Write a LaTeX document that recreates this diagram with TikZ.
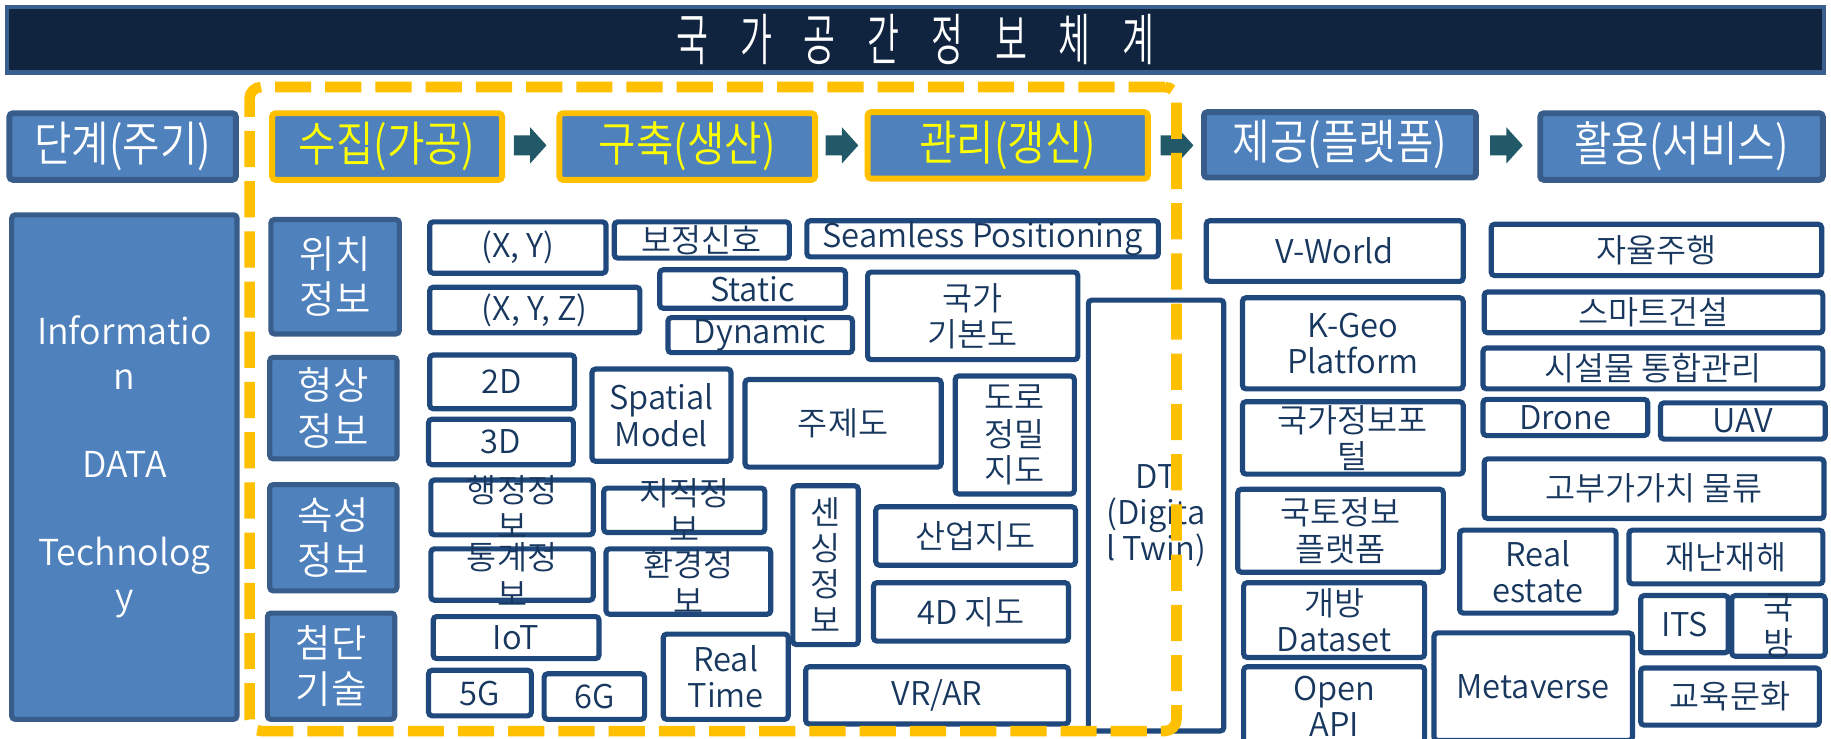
\documentclass[tikz,border=0pt]{standalone}
\usepackage{fontspec}
\IfFontExistsTF{Noto Sans CJK KR DemiLight}{%
  \setmainfont{Noto Sans CJK KR DemiLight}
  \newfontfamily\titlefont[FakeStretch=0.62]{Noto Sans CJK KR DemiLight}
  \newfontfamily\stagefont[FakeStretch=0.85]{Noto Sans CJK KR DemiLight}
}{%
  \setmainfont{Noto Sans CJK KR}
  \newfontfamily\titlefont[FakeStretch=0.62]{Noto Sans CJK KR}
  \newfontfamily\stagefont[FakeStretch=0.85]{Noto Sans CJK KR}
}
\definecolor{navy}{HTML}{10233F}
\definecolor{frameblue}{HTML}{3A5F8F}
\definecolor{fillblue}{HTML}{4F81BD}
\definecolor{edgeblue}{HTML}{385D8A}
\definecolor{boxedge}{HTML}{1F497D}
\definecolor{boxtext}{HTML}{17375E}
\definecolor{gold}{HTML}{FFC000}
\definecolor{ytext}{HTML}{FFFF00}
\definecolor{arrowteal}{HTML}{215968}
% box: style, text style, name, x1, y1, x2, y2, text
\newcommand\bx[8]{%
  \node[#1, minimum width={(#6-#4)*0.5pt-2pt}, minimum height={(#7-#5)*0.5pt-2pt}] (#3) at ({(#4+#6)/2},{(#5+#7)/2}) {};
  \node[#2] (#3-t) at (#3.center) {#8};}
\newcommand\blockarrow[3]{%
  \coordinate (#1) at (#2,#3);
  \fill[arrowteal] (#1) ++(0,-8.5) -- ++(14,0) -- ++(0,-7) -- ++(14,15.5) -- ++(-14,15.5) -- ++(0,-7) -- ++(-14,0) -- cycle;}
\begin{document}
\begin{tikzpicture}[x=0.5pt,y=-0.5pt,
  cbox/.style={draw=boxedge, fill=white, line width=2.2pt, rounded corners=1.5pt, inner sep=0, outer sep=0},
  catbox/.style={draw=edgeblue, fill=fillblue, line width=2.2pt, rounded corners=1.5pt, inner sep=0, outer sep=0},
  stbox/.style={draw=edgeblue, fill=fillblue, line width=2.5pt, rounded corners=1.5pt, inner sep=0, outer sep=0},
  ystbox/.style={stbox, draw=gold},
  ctext/.style={font=\fontsize{14}{15.5}\selectfont, text=boxtext, align=center, inner sep=0},
  sttext/.style={font=\stagefont\fontsize{20.5}{24}\selectfont, text=white, align=center, inner sep=0},
  ysttext/.style={sttext, text=ytext},
  cattext/.style={font=\fontsize{16.5}{19.5}\selectfont, text=white, align=center, inner sep=0},
  bigtext/.style={font=\fontsize{15.3}{18.9}\selectfont, text=white, align=center, inner sep=0},
  titletext/.style={font=\titlefont\fontsize{24}{28}\selectfont, text=white, inner sep=0}]
\useasboundingbox (0,0) rectangle (1568,632);
\clip (0,0) rectangle (1568,632);
\fill[white] (0,0) rectangle (1568,632);
% title
\node[fill=navy, draw=frameblue, line width=2pt, inner sep=0, minimum width=778pt, minimum height=28pt] (title) at (784,34) {};
\node[titletext] (title-t) at (title.center) {\spaceskip=13.6pt 국 가 공 간 정 보 체 계};
% stages
\bx{stbox}{sttext}{stA}{6}{95}{204}{156}{단계(주기)}
\bx{ystbox}{ysttext}{stB}{231}{95}{432}{156}{수집(가공)}
\bx{ystbox}{ysttext}{stC}{477}{95}{700}{156}{구축(생산)}
\bx{ystbox}{ysttext}{stD}{741}{94}{985}{155}{관리(갱신)}
\bx{stbox}{sttext}{stE}{1029}{94}{1266}{154}{제공(플랫폼)}
\bx{stbox}{sttext}{stF}{1317}{95}{1563}{156}{활용(서비스)}
\blockarrow{a1}{440}{124.5}
\blockarrow{a2}{707}{124.5}
\blockarrow{a3}{994}{124.5}
\blockarrow{a4}{1276}{124.5}
% left big box
\bx{catbox}{bigtext}{info}{8}{182}{205}{618}{Informatio\\n\\[18.9pt]DATA\\[18.9pt]Technolog\\y}
% categories
\bx{catbox}{cattext}{cat1}{230}{186}{344}{288}{위치\\정보}
\bx{catbox}{cattext}{cat2}{229}{304}{342}{395}{형상\\정보}
\bx{catbox}{cattext}{cat3}{229}{413}{342}{508}{속성\\정보}
\bx{catbox}{cattext}{cat4}{227}{523}{340}{618}{첨단\\기술}
% content boxes, left part
\bx{cbox}{ctext}{xy}{366}{188}{521}{236}{(X, Y)}
\bx{cbox}{ctext}{bojeong}{524}{188}{678}{223}{보정신호}
\bx{cbox}{ctext}{seamless}{689}{187}{994}{222}{Seamless Positioning}
\bx{cbox}{ctext}{xyz}{366}{244}{550}{287}{(X, Y, Z)}
\bx{cbox}{ctext}{static}{563}{229}{726}{266}{Static}
\bx{cbox}{ctext}{dynamic}{570}{270}{732}{304}{Dynamic}
\bx{cbox}{ctext}{gibondo}{741}{231}{925}{310}{국가\\기본도}
\bx{cbox}{ctext}{twod}{366}{302}{494}{352}{2D}
\bx{cbox}{ctext}{threed}{365}{357}{493}{400}{3D}
\bx{cbox}{ctext}{spatial}{505}{314}{628}{397}{Spatial\\Model}
\bx{cbox}{ctext}{jujedo}{636}{323}{808}{402}{주제도}
\bx{cbox}{ctext}{doro}{816}{320}{922}{425}{도로\\정밀\\지도}
\bx{cbox}{ctext}{dt}{930}{255}{1050}{628}{DT\\(Digita\\l Twin)}
\bx{cbox}{ctext}{haengjeong}{367}{409}{510}{460}{행정정\\보}
\bx{cbox}{ctext}{tonggye}{367}{468}{510}{516}{통계정\\보}
\bx{cbox}{ctext}{jijeok}{515}{416}{657}{458}{지적정\\보}
\bx{cbox}{ctext}{hwangyeong}{517}{468}{662}{528}{환경정\\보}
\bx{cbox}{ctext}{sensing}{677}{414}{737}{554}{센\\싱\\정\\보}
\bx{cbox}{ctext}{saneop}{748}{432}{923}{486}{산업지도}
\bx{cbox}{ctext}{fourd}{746}{497}{917}{551}{4D 지도}
\bx{cbox}{ctext}{iot}{369}{526}{515}{566}{IoT}
\bx{cbox}{ctext}{fiveg}{365}{572}{457}{615}{5G}
\bx{cbox}{ctext}{sixg}{464}{575}{554}{618}{6G}
\bx{cbox}{ctext}{realtime}{566}{541}{677}{618}{Real\\Time}
\bx{cbox}{ctext}{vrar}{688}{569}{917}{622}{VR/AR}
% platform column
\bx{cbox}{ctext}{vworld}{1031}{187}{1255}{243}{V-World}
\bx{cbox}{ctext}{kgeo}{1062}{253}{1255}{335}{K-Geo\\Platform}
\bx{cbox}{ctext}{portal}{1062}{342}{1255}{408}{국가정보포\\털}
\bx{cbox}{ctext}{gukto}{1058}{417}{1238}{492}{국토정보\\플랫폼}
\bx{cbox}{ctext}{dataset}{1063}{497}{1222}{565}{개방\\Dataset}
\bx{cbox}{ctext}{openapi}{1063}{569}{1222}{641}{Open\\API}
% service column
\bx{cbox}{ctext}{jayul}{1275}{190}{1562}{238}{자율주행}
\bx{cbox}{ctext}{smart}{1269}{248}{1563}{287}{스마트건설}
\bx{cbox}{ctext}{siseol}{1268}{296}{1563}{335}{시설물 통합관리}
\bx{cbox}{ctext}{drone}{1268}{340}{1413}{375}{Drone}
\bx{cbox}{ctext}{uav}{1420}{343}{1565}{378}{UAV}
\bx{cbox}{ctext}{gobuga}{1269}{391}{1564}{446}{고부가가치 물류}
\bx{cbox}{ctext}{realestate}{1248}{452}{1386}{527}{Real\\estate}
\bx{cbox}{ctext}{jaenan}{1393}{452}{1563}{502}{재난재해}
\bx{cbox}{ctext}{its}{1403}{508}{1482}{561}{ITS}
\bx{cbox}{ctext}{gukbang}{1481}{508}{1565}{564}{국\\방}
\bx{cbox}{ctext}{metaverse}{1226}{540}{1400}{636}{Metaverse}
\bx{cbox}{ctext}{gyoyuk}{1403}{570}{1560}{623}{교육문화}
% dashed phase frame (drawn on top)
\node[draw=gold, line width=4.5pt, dash pattern=on 15.5pt off 6pt, rounded corners=5pt, inner sep=0, minimum width={(1007.5-213.7)*0.5pt}, minimum height={(626-74.5)*0.5pt}] (phase) at (610.6,350.25) {};
\end{tikzpicture}
\end{document}
